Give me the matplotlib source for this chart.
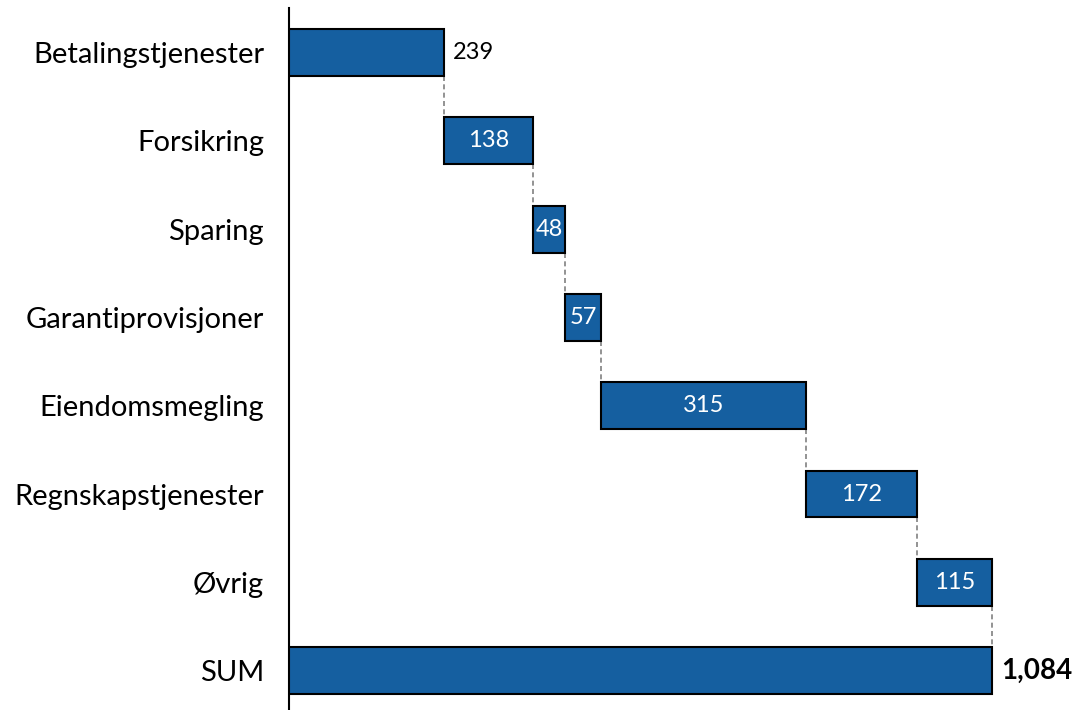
import numpy as np
import matplotlib
matplotlib.use("Agg")
import matplotlib.pyplot as plt

plt.rcParams["font.family"] = ["Lato", "DejaVu Sans"]

categories = ["Betalingstjenester", "Forsikring", "Sparing", "Garantiprovisjoner",
              "Eiendomsmegling", "Regnskapstjenester", "Øvrig"]
values = [239, 138, 48, 57, 315, 172, 115]
total_label = "SUM"

BLUE = "#155FA0"

total = sum(values)
starts = np.concatenate([[0], np.cumsum(values)[:-1]])
labels = categories + [total_label]
lefts = list(starts) + [0]
widths = values + [total]
ypos = np.arange(len(labels))

fig = plt.figure(figsize=(10.77, 7.10), dpi=100)
ax = fig.add_axes([289 / 1077, 0, (1067 - 289) / 1077, 1 - 8 / 710])

h = 0.53
ax.barh(ypos, widths, left=lefts, height=h, color=BLUE, edgecolor="black", linewidth=1.5, zorder=3)

# connector lines
ends = np.cumsum(values)
for i, e in enumerate(ends):
    ax.plot([e, e], [i + h / 2, i + 1 - h / 2], ls=(0, (3, 2)), color="#808080", lw=1.2, zorder=2)

# value labels
for i, (l, w) in enumerate(zip(lefts, widths)):
    if i == 0:
        ax.text(l + w + 14, i, str(w), ha="left", va="center", fontsize=17, color="black")
    elif i == len(labels) - 1:
        ax.text(l + w + 14, i, f"{w:,}", ha="left", va="center", fontsize=20,
                fontweight="bold", color="black")
    else:
        ax.text(l + w / 2, i, str(w), ha="center", va="center", fontsize=17, color="white", zorder=4)

ax.set_yticks(ypos)
ax.set_yticklabels(labels, fontsize=21)
ax.tick_params(axis="y", length=0, pad=18)
ax.set_xticks([])
ax.set_xlim(0, 1200)
ax.set_ylim(7.446, -0.504)
for s in ["top", "right", "bottom"]:
    ax.spines[s].set_visible(False)
ax.spines["left"].set_linewidth(1.5)

fig.savefig("out.png", dpi=100)
